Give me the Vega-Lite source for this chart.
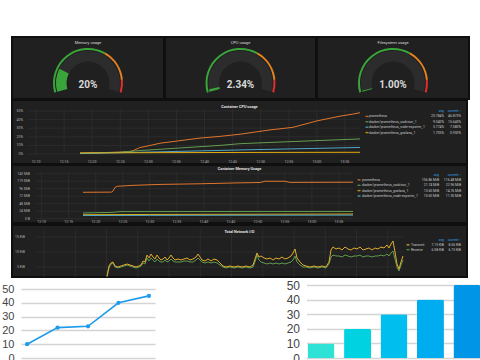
{
  "$schema": "https://vega.github.io/schema/vega-lite/v6.json",
  "background": "#ffffff",
  "padding": {"top": 36, "left": 0, "right": 0, "bottom": -4},
  "config": {
    "view": {"stroke": null},
    "font": "Roboto",
    "axis": {"domain": false, "ticks": false, "grid": false, "labelOverlap": false, "labelFlush": false},
    "title": {"font": "Roboto"}
  },
  "spacing": 0,
  "vconcat": [
    {
      "spacing": 0,
      "hconcat": [
        {"width": 11, "height": 1, "data": {"values": []}, "mark": "point"},
        {
          "spacing": -2,
          "vconcat": [
            {
              "spacing": -2,
              "hconcat": [
                {
                  "width": 152, "height": 62,
                  "view": {"fill": "#202020", "stroke": "#0f0f0f", "strokeWidth": 2},
                  "title": {"text": "Memory usage", "offset": -7.5, "fontSize": 4, "fontWeight": "normal", "color": "#d8d9da"},
                  "layer": [
                    {"data": {"values": [{"from": 0, "to": 100}]},
                     "mark": {"type": "arc", "radius": 32, "radius2": 21.5, "color": "#2c2c2c", "yOffset": 15},
                     "encoding": {"theta": {"field": "from", "type": "quantitative", "scale": {"domain": [0, 100], "range": [-1.85, 1.85]}}, "theta2": {"field": "to"}}},
                    {"data": {"values": [{"from": 0, "to": 20}]},
                     "mark": {"type": "arc", "radius": 32, "radius2": 21.5, "color": "#3aa53a", "yOffset": 15},
                     "encoding": {"theta": {"field": "from", "type": "quantitative"}, "theta2": {"field": "to"}}},
                    {"data": {"values": [{"from": 0, "to": 64, "level": "ok"}, {"from": 64, "to": 90, "level": "warn"}, {"from": 90, "to": 100, "level": "crit"}]},
                     "mark": {"type": "arc", "radius": 35, "radius2": 33, "yOffset": 15},
                     "encoding": {"theta": {"field": "from", "type": "quantitative"}, "theta2": {"field": "to"},
                                  "fill": {"field": "level", "type": "nominal", "scale": {"domain": ["ok", "warn", "crit"], "range": ["#3aa53a", "#e5821e", "#e0302e"]}, "legend": null}}},
                    {"data": {"values": [{"label": "20%"}]},
                     "mark": {"type": "text", "fontSize": 10, "fontWeight": "bold", "color": "#d8d9da", "dy": 16.5},
                     "encoding": {"text": {"field": "label"}}}
                  ]
                },
                {
                  "width": 151, "height": 62,
                  "view": {"fill": "#202020", "stroke": "#0f0f0f", "strokeWidth": 2},
                  "title": {"text": "CPU usage", "offset": -7.5, "fontSize": 4, "fontWeight": "normal", "color": "#d8d9da"},
                  "layer": [
                    {"data": {"values": [{"from": 0, "to": 100}]},
                     "mark": {"type": "arc", "radius": 32, "radius2": 21.5, "color": "#2c2c2c", "yOffset": 15},
                     "encoding": {"theta": {"field": "from", "type": "quantitative", "scale": {"domain": [0, 100], "range": [-1.85, 1.85]}}, "theta2": {"field": "to"}}},
                    {"data": {"values": [{"from": 0, "to": 2.34}]},
                     "mark": {"type": "arc", "radius": 32, "radius2": 21.5, "color": "#3aa53a", "yOffset": 15},
                     "encoding": {"theta": {"field": "from", "type": "quantitative"}, "theta2": {"field": "to"}}},
                    {"data": {"values": [{"from": 0, "to": 64, "level": "ok"}, {"from": 64, "to": 90, "level": "warn"}, {"from": 90, "to": 100, "level": "crit"}]},
                     "mark": {"type": "arc", "radius": 35, "radius2": 33, "yOffset": 15},
                     "encoding": {"theta": {"field": "from", "type": "quantitative"}, "theta2": {"field": "to"},
                                  "fill": {"field": "level", "type": "nominal", "scale": {"domain": ["ok", "warn", "crit"], "range": ["#3aa53a", "#e5821e", "#e0302e"]}, "legend": null}}},
                    {"data": {"values": [{"label": "2.34%"}]},
                     "mark": {"type": "text", "fontSize": 10, "fontWeight": "bold", "color": "#d8d9da", "dy": 16.5},
                     "encoding": {"text": {"field": "label"}}}
                  ]
                },
                {
                  "width": 152, "height": 62,
                  "view": {"fill": "#202020", "stroke": "#0f0f0f", "strokeWidth": 2},
                  "title": {"text": "Filesystem usage", "offset": -7.5, "fontSize": 4, "fontWeight": "normal", "color": "#d8d9da"},
                  "layer": [
                    {"data": {"values": [{"from": 0, "to": 100}]},
                     "mark": {"type": "arc", "radius": 32, "radius2": 21.5, "color": "#2c2c2c", "yOffset": 15},
                     "encoding": {"theta": {"field": "from", "type": "quantitative", "scale": {"domain": [0, 100], "range": [-1.85, 1.85]}}, "theta2": {"field": "to"}}},
                    {"data": {"values": [{"from": 0, "to": 1}]},
                     "mark": {"type": "arc", "radius": 32, "radius2": 21.5, "color": "#3aa53a", "yOffset": 15},
                     "encoding": {"theta": {"field": "from", "type": "quantitative"}, "theta2": {"field": "to"}}},
                    {"data": {"values": [{"from": 0, "to": 64, "level": "ok"}, {"from": 64, "to": 90, "level": "warn"}, {"from": 90, "to": 100, "level": "crit"}]},
                     "mark": {"type": "arc", "radius": 35, "radius2": 33, "yOffset": 15},
                     "encoding": {"theta": {"field": "from", "type": "quantitative"}, "theta2": {"field": "to"},
                                  "fill": {"field": "level", "type": "nominal", "scale": {"domain": ["ok", "warn", "crit"], "range": ["#3aa53a", "#e5821e", "#e0302e"]}, "legend": null}}},
                    {"data": {"values": [{"label": "1.00%"}]},
                     "mark": {"type": "text", "fontSize": 10, "fontWeight": "bold", "color": "#d8d9da", "dy": 16.5},
                     "encoding": {"text": {"field": "label"}}}
                  ]
                }
              ]
            },
            {
              "spacing": -3,
              "vconcat": [
                {
                  "width": 455, "height": 64,
                  "view": {"fill": "#202020", "stroke": "#0f0f0f", "strokeWidth": 2},
                  "title": {"text": "Container CPU usage", "offset": -8.5, "fontSize": 3.8, "fontWeight": "bold", "color": "#e2e2e2"},
                  "resolve": {"scale": {"x": "independent", "y": "independent"}},
                  "layer": [
                    {
                      "layer": [
                        {"data": {"values": [{"v": 0}, {"v": 10}, {"v": 20}, {"v": 30}, {"v": 40}, {"v": 50}]},
                         "mark": {"type": "rule", "color": "#303030", "strokeWidth": 0.7},
                         "encoding": {
                           "y": {"field": "v", "type": "quantitative", "scale": {"domain": [-11.63, 62.79], "nice": false, "zero": false}, "axis": null},
                           "x": {"datum": 8.6, "type": "quantitative", "scale": {"domain": [5.73, 86.72], "nice": false, "zero": false}, "axis": null},
                           "x2": {"datum": 67.7}}},
                        {"data": {"values": [{"t": 10}, {"t": 15}, {"t": 20}, {"t": 25}, {"t": 30}, {"t": 35}, {"t": 40}, {"t": 45}, {"t": 50}, {"t": 55}, {"t": 60}, {"t": 65}]},
                         "mark": {"type": "rule", "color": "#303030", "strokeWidth": 0.7},
                         "encoding": {
                           "x": {"field": "t", "type": "quantitative", "axis": null},
                           "y": {"datum": 0, "type": "quantitative", "axis": null},
                           "y2": {"datum": 52}}},
                        {"data": {"values": [{"v": 0, "lab": "0%"}, {"v": 10, "lab": "10%"}, {"v": 20, "lab": "20%"}, {"v": 30, "lab": "30%"}, {"v": 40, "lab": "40%"}, {"v": 50, "lab": "50%"}]},
                         "mark": {"type": "text", "align": "right", "baseline": "middle", "fontSize": 3.5, "color": "#b0b0b0"},
                         "encoding": {
                           "y": {"field": "v", "type": "quantitative", "axis": null},
                           "x": {"datum": 7.69, "type": "quantitative", "axis": null},
                           "text": {"field": "lab"}}},
                        {"data": {"values": [{"t": 10, "lab": "12:10"}, {"t": 15, "lab": "12:15"}, {"t": 20, "lab": "12:20"}, {"t": 25, "lab": "12:25"}, {"t": 30, "lab": "12:30"}, {"t": 35, "lab": "12:35"}, {"t": 40, "lab": "12:40"}, {"t": 45, "lab": "12:45"}, {"t": 50, "lab": "12:50"}, {"t": 55, "lab": "12:55"}, {"t": 60, "lab": "13:00"}, {"t": 65, "lab": "13:05"}]},
                         "mark": {"type": "text", "align": "center", "baseline": "middle", "fontSize": 3.5, "color": "#b0b0b0"},
                         "encoding": {
                           "x": {"field": "t", "type": "quantitative", "axis": null},
                           "y": {"datum": -9.5, "type": "quantitative", "axis": null},
                           "text": {"field": "lab"}}},
                        {"data": {"values": [
                          {"s": "prometheus", "t": 17.83, "v": 1.0}, {"s": "prometheus", "t": 21.4, "v": 1.5}, {"s": "prometheus", "t": 24.95, "v": 2.2}, {"s": "prometheus", "t": 26.73, "v": 3.0}, {"s": "prometheus", "t": 27.27, "v": 3.8}, {"s": "prometheus", "t": 28.5, "v": 7.5}, {"s": "prometheus", "t": 30, "v": 9.5}, {"s": "prometheus", "t": 32.07, "v": 12.5}, {"s": "prometheus", "t": 35.63, "v": 15.5}, {"s": "prometheus", "t": 39.19, "v": 18.5}, {"s": "prometheus", "t": 42.75, "v": 20.5}, {"s": "prometheus", "t": 46.31, "v": 23}, {"s": "prometheus", "t": 51.65, "v": 28}, {"s": "prometheus", "t": 55.75, "v": 31}, {"s": "prometheus", "t": 60.02, "v": 38.5}, {"s": "prometheus", "t": 64.11, "v": 44}, {"s": "prometheus", "t": 66.5, "v": 46.5}, {"s": "prometheus", "t": 67.67, "v": 48},
                          {"s": "docker/prometheus_cadvisor_1", "t": 17.83, "v": 0.8}, {"s": "docker/prometheus_cadvisor_1", "t": 24.95, "v": 2}, {"s": "docker/prometheus_cadvisor_1", "t": 28.5, "v": 4}, {"s": "docker/prometheus_cadvisor_1", "t": 35.63, "v": 7}, {"s": "docker/prometheus_cadvisor_1", "t": 42.75, "v": 10}, {"s": "docker/prometheus_cadvisor_1", "t": 46.31, "v": 12}, {"s": "docker/prometheus_cadvisor_1", "t": 55.75, "v": 14.5}, {"s": "docker/prometheus_cadvisor_1", "t": 67.67, "v": 17.5},
                          {"s": "docker/prometheus_node-exporter_1", "t": 17.83, "v": 0.5}, {"s": "docker/prometheus_node-exporter_1", "t": 28.5, "v": 2}, {"s": "docker/prometheus_node-exporter_1", "t": 46.31, "v": 4.7}, {"s": "docker/prometheus_node-exporter_1", "t": 67.67, "v": 7.6},
                          {"s": "docker/prometheus_grafana_1", "t": 17.83, "v": 1.2}, {"s": "docker/prometheus_grafana_1", "t": 28.5, "v": 1.5}, {"s": "docker/prometheus_grafana_1", "t": 46.31, "v": 1.8}, {"s": "docker/prometheus_grafana_1", "t": 67.67, "v": 2.0}
                         ]},
                         "mark": {"type": "line", "strokeWidth": 1, "clip": true},
                         "encoding": {
                           "x": {"field": "t", "type": "quantitative", "axis": null},
                           "y": {"field": "v", "type": "quantitative", "axis": null},
                           "stroke": {"field": "s", "type": "nominal", "scale": {"domain": ["prometheus", "docker/prometheus_cadvisor_1", "docker/prometheus_node-exporter_1", "docker/prometheus_grafana_1", "Transmit", "Receive"], "range": ["#e0752d", "#629e51", "#4fa7c9", "#e5ac0e", "#e0ac2e", "#5f9a4e"]}, "legend": null}}}
                      ]
                    },
                    {
                      "data": {"values": [
                        {"series": "prometheus", "avg": "20.784%", "cur": "46.873%"},
                        {"series": "docker/prometheus_cadvisor_1", "avg": "9.040%", "cur": "15.643%"},
                        {"series": "docker/prometheus_node-exporter_1", "avg": "3.774%", "cur": "7.580%"},
                        {"series": "docker/prometheus_grafana_1", "avg": "1.705%", "cur": "0.930%"}
                      ]},
                      "layer": [
                        {"mark": {"type": "tick", "orient": "horizontal", "size": 2.5, "thickness": 0.5, "filled": false, "strokeWidth": 1},
                         "encoding": {
                           "x": {"datum": 0, "type": "quantitative", "scale": {"domain": [0, 1, 2, 3], "range": [355, 357, 432, 449], "nice": false, "zero": false}, "axis": null},
                           "y": {"field": "series", "type": "nominal", "scale": {"type": "point", "domain": ["hdr", "prometheus", "docker/prometheus_cadvisor_1", "docker/prometheus_node-exporter_1", "docker/prometheus_grafana_1"], "range": [11, 32.6], "padding": 0}, "axis": null},
                           "stroke": {"field": "series", "type": "nominal", "scale": {"domain": ["prometheus", "docker/prometheus_cadvisor_1", "docker/prometheus_node-exporter_1", "docker/prometheus_grafana_1", "Transmit", "Receive"], "range": ["#e0752d", "#629e51", "#4fa7c9", "#e5ac0e", "#e0ac2e", "#5f9a4e"]}, "legend": null}}},
                        {"mark": {"type": "text", "align": "left", "fontSize": 3.4, "color": "#c8c9ca"},
                         "encoding": {"x": {"datum": 1, "type": "quantitative", "axis": null}, "y": {"field": "series", "type": "nominal", "axis": null}, "text": {"field": "series"}}},
                        {"mark": {"type": "text", "align": "right", "fontSize": 3.4, "color": "#c8c9ca"},
                         "encoding": {"x": {"datum": 2, "type": "quantitative", "axis": null}, "y": {"field": "series", "type": "nominal", "axis": null}, "text": {"field": "avg"}}},
                        {"mark": {"type": "text", "align": "right", "fontSize": 3.4, "color": "#c8c9ca"},
                         "encoding": {"x": {"datum": 3, "type": "quantitative", "axis": null}, "y": {"field": "series", "type": "nominal", "axis": null}, "text": {"field": "cur"}}},
                        {"data": {"values": [{"h": "avg", "c": 2}, {"h": "current ↑", "c": 3}]},
                         "mark": {"type": "text", "align": "right", "fontSize": 3.4, "color": "#33a2e5"},
                         "encoding": {"x": {"field": "c", "type": "quantitative", "axis": null}, "y": {"datum": "hdr", "type": "nominal", "axis": null}, "text": {"field": "h"}}}
                      ]
                    }
                  ]
                },
                {
                  "width": 455, "height": 58,
                  "view": {"fill": "#202020", "stroke": "#0f0f0f", "strokeWidth": 2},
                  "title": {"text": "Container Memory Usage", "offset": -6, "fontSize": 3.8, "fontWeight": "bold", "color": "#e2e2e2"},
                  "resolve": {"scale": {"x": "independent", "y": "independent"}},
                  "layer": [
                    {
                      "layer": [
                        {"data": {"values": [{"v": 0}, {"v": 23.842}, {"v": 47.684}, {"v": 71.526}, {"v": 95.367}, {"v": 119.209}, {"v": 143.051}]},
                         "mark": {"type": "rule", "color": "#303030", "strokeWidth": 0.7},
                         "encoding": {
                           "y": {"field": "v", "type": "quantitative", "scale": {"domain": [-13.7, 170.7], "nice": false, "zero": false}, "axis": null},
                           "x": {"datum": 8.95, "type": "quantitative", "scale": {"domain": [4.505, 88.69], "nice": false, "zero": false}, "axis": null},
                           "x2": {"datum": 67.6}}},
                        {"data": {"values": [{"t": 10}, {"t": 15}, {"t": 20}, {"t": 25}, {"t": 30}, {"t": 35}, {"t": 40}, {"t": 45}, {"t": 50}, {"t": 55}, {"t": 60}, {"t": 65}]},
                         "mark": {"type": "rule", "color": "#303030", "strokeWidth": 0.7},
                         "encoding": {
                           "x": {"field": "t", "type": "quantitative", "axis": null},
                           "y": {"datum": 0, "type": "quantitative", "axis": null},
                           "y2": {"datum": 150}}},
                        {"data": {"values": [{"v": 0, "lab": "0 B"}, {"v": 23.842, "lab": "24 MiB"}, {"v": 47.684, "lab": "48 MiB"}, {"v": 71.526, "lab": "72 MiB"}, {"v": 95.367, "lab": "96 MiB"}, {"v": 119.209, "lab": "119 MiB"}, {"v": 143.051, "lab": "143 MiB"}]},
                         "mark": {"type": "text", "align": "right", "baseline": "middle", "fontSize": 3.5, "color": "#b0b0b0"},
                         "encoding": {
                           "y": {"field": "v", "type": "quantitative", "axis": null},
                           "x": {"datum": 7.84, "type": "quantitative", "axis": null},
                           "text": {"field": "lab"}}},
                        {"data": {"values": [{"t": 10, "lab": "12:10"}, {"t": 15, "lab": "12:15"}, {"t": 20, "lab": "12:20"}, {"t": 25, "lab": "12:25"}, {"t": 30, "lab": "12:30"}, {"t": 35, "lab": "12:35"}, {"t": 40, "lab": "12:40"}, {"t": 45, "lab": "12:45"}, {"t": 50, "lab": "12:50"}, {"t": 55, "lab": "12:55"}, {"t": 60, "lab": "13:00"}, {"t": 65, "lab": "13:05"}]},
                         "mark": {"type": "text", "align": "center", "baseline": "middle", "fontSize": 3.5, "color": "#b0b0b0"},
                         "encoding": {
                           "x": {"field": "t", "type": "quantitative", "axis": null},
                           "y": {"datum": -10, "type": "quantitative", "axis": null},
                           "text": {"field": "lab"}}},
                        {"data": {"values": [
                          {"s": "prometheus", "t": 17.64, "v": 84}, {"s": "prometheus", "t": 22.9, "v": 84.5}, {"s": "prometheus", "t": 23.2, "v": 88}, {"s": "prometheus", "t": 23.6, "v": 100}, {"s": "prometheus", "t": 24.0, "v": 103}, {"s": "prometheus", "t": 26.9, "v": 106}, {"s": "prometheus", "t": 31.9, "v": 109}, {"s": "prometheus", "t": 39.3, "v": 111}, {"s": "prometheus", "t": 46.7, "v": 114}, {"s": "prometheus", "t": 50.4, "v": 115}, {"s": "prometheus", "t": 51.3, "v": 119}, {"s": "prometheus", "t": 55.0, "v": 119}, {"s": "prometheus", "t": 55.9, "v": 115.5}, {"s": "prometheus", "t": 67.6, "v": 116},
                          {"s": "docker/prometheus_cadvisor_1", "t": 17.64, "v": 18}, {"s": "docker/prometheus_cadvisor_1", "t": 20, "v": 19}, {"s": "docker/prometheus_cadvisor_1", "t": 23, "v": 20}, {"s": "docker/prometheus_cadvisor_1", "t": 24.5, "v": 22.5}, {"s": "docker/prometheus_cadvisor_1", "t": 30, "v": 22.6}, {"s": "docker/prometheus_cadvisor_1", "t": 40, "v": 22.8}, {"s": "docker/prometheus_cadvisor_1", "t": 50, "v": 23}, {"s": "docker/prometheus_cadvisor_1", "t": 67.6, "v": 23},
                          {"s": "docker/prometheus_grafana_1", "t": 17.64, "v": 12.5}, {"s": "docker/prometheus_grafana_1", "t": 30, "v": 13.5}, {"s": "docker/prometheus_grafana_1", "t": 50, "v": 14.2}, {"s": "docker/prometheus_grafana_1", "t": 67.6, "v": 14.8},
                          {"s": "docker/prometheus_node-exporter_1", "t": 17.64, "v": 10}, {"s": "docker/prometheus_node-exporter_1", "t": 30, "v": 10.5}, {"s": "docker/prometheus_node-exporter_1", "t": 50, "v": 11}, {"s": "docker/prometheus_node-exporter_1", "t": 67.6, "v": 11.3}
                         ]},
                         "mark": {"type": "line", "strokeWidth": 1, "clip": true},
                         "encoding": {
                           "x": {"field": "t", "type": "quantitative", "axis": null},
                           "y": {"field": "v", "type": "quantitative", "axis": null},
                           "stroke": {"field": "s", "type": "nominal", "scale": {"domain": ["prometheus", "docker/prometheus_cadvisor_1", "docker/prometheus_node-exporter_1", "docker/prometheus_grafana_1", "Transmit", "Receive"], "range": ["#e0752d", "#629e51", "#4fa7c9", "#e5ac0e", "#e0ac2e", "#5f9a4e"]}, "legend": null}}}
                      ]
                    },
                    {
                      "data": {"values": [
                        {"series": "prometheus", "avg": "106.86 MiB", "cur": "116.48 MiB"},
                        {"series": "docker/prometheus_cadvisor_1", "avg": "21.74 MiB", "cur": "22.96 MiB"},
                        {"series": "docker/prometheus_grafana_1", "avg": "13.60 MiB", "cur": "14.76 MiB"},
                        {"series": "docker/prometheus_node-exporter_1", "avg": "10.60 MiB", "cur": "11.30 MiB"}
                      ]},
                      "layer": [
                        {"mark": {"type": "tick", "orient": "horizontal", "size": 2.5, "thickness": 0.5, "filled": false, "strokeWidth": 1},
                         "encoding": {
                           "x": {"datum": 0, "type": "quantitative", "scale": {"domain": [0, 1, 2, 3], "range": [347, 350, 427, 449], "nice": false, "zero": false}, "axis": null},
                           "y": {"field": "series", "type": "nominal", "scale": {"type": "point", "domain": ["hdr", "prometheus", "docker/prometheus_cadvisor_1", "docker/prometheus_grafana_1", "docker/prometheus_node-exporter_1"], "range": [9.5, 31], "padding": 0}, "axis": null},
                           "stroke": {"field": "series", "type": "nominal", "scale": {"domain": ["prometheus", "docker/prometheus_cadvisor_1", "docker/prometheus_node-exporter_1", "docker/prometheus_grafana_1", "Transmit", "Receive"], "range": ["#e0752d", "#629e51", "#4fa7c9", "#e5ac0e", "#e0ac2e", "#5f9a4e"]}, "legend": null}}},
                        {"mark": {"type": "text", "align": "left", "fontSize": 3.4, "color": "#c8c9ca"},
                         "encoding": {"x": {"datum": 1, "type": "quantitative", "axis": null}, "y": {"field": "series", "type": "nominal", "axis": null}, "text": {"field": "series"}}},
                        {"mark": {"type": "text", "align": "right", "fontSize": 3.4, "color": "#c8c9ca"},
                         "encoding": {"x": {"datum": 2, "type": "quantitative", "axis": null}, "y": {"field": "series", "type": "nominal", "axis": null}, "text": {"field": "avg"}}},
                        {"mark": {"type": "text", "align": "right", "fontSize": 3.4, "color": "#c8c9ca"},
                         "encoding": {"x": {"datum": 3, "type": "quantitative", "axis": null}, "y": {"field": "series", "type": "nominal", "axis": null}, "text": {"field": "cur"}}},
                        {"data": {"values": [{"h": "avg", "c": 2}, {"h": "current ↑", "c": 3}]},
                         "mark": {"type": "text", "align": "right", "fontSize": 3.4, "color": "#33a2e5"},
                         "encoding": {"x": {"field": "c", "type": "quantitative", "axis": null}, "y": {"datum": "hdr", "type": "nominal", "axis": null}, "text": {"field": "h"}}}
                      ]
                    }
                  ]
                },
                {
                  "width": 455, "height": 52,
                  "view": {"fill": "#202020", "stroke": "#0f0f0f", "strokeWidth": 2},
                  "title": {"text": "Total Network I/O", "offset": -9, "fontSize": 3.8, "fontWeight": "bold", "color": "#e2e2e2"},
                  "resolve": {"scale": {"x": "independent", "y": "independent"}},
                  "layer": [
                    {
                      "layer": [
                        {"data": {"values": [{"v": 5}, {"v": 10}, {"v": 15}]},
                         "mark": {"type": "rule", "color": "#303030", "strokeWidth": 0.7},
                         "encoding": {
                           "y": {"field": "v", "type": "quantitative", "scale": {"domain": [1.667, 19], "nice": false, "zero": false}, "axis": null},
                           "x": {"datum": 8.56, "type": "quantitative", "scale": {"domain": [4.88, 77.68], "nice": false, "zero": false}, "axis": null},
                           "x2": {"datum": 67.44}}},
                        {"data": {"values": [{"t": 10}, {"t": 15}, {"t": 20}, {"t": 25}, {"t": 30}, {"t": 35}, {"t": 40}, {"t": 45}, {"t": 50}, {"t": 55}, {"t": 60}, {"t": 65}]},
                         "mark": {"type": "rule", "color": "#303030", "strokeWidth": 0.7},
                         "encoding": {
                           "x": {"field": "t", "type": "quantitative", "axis": null},
                           "y": {"datum": 1.7, "type": "quantitative", "axis": null},
                           "y2": {"datum": 17.5}}},
                        {"data": {"values": [{"v": 5, "lab": "5 KiB"}, {"v": 10, "lab": "10 KiB"}, {"v": 15, "lab": "15 KiB"}]},
                         "mark": {"type": "text", "align": "right", "baseline": "middle", "fontSize": 3.5, "color": "#b0b0b0"},
                         "encoding": {
                           "y": {"field": "v", "type": "quantitative", "axis": null},
                           "x": {"datum": 6.96, "type": "quantitative", "axis": null},
                           "text": {"field": "lab"}}},
                        {"data": {"values": [
                          {"t": 20.08, "Transmit": 2.0, "Receive": 1.7}, {"t": 20.40, "Transmit": 5.33, "Receive": 4.67}, {"t": 20.72, "Transmit": 6.33, "Receive": 6.0}, {"t": 21.04, "Transmit": 6.67, "Receive": 6.33}, {"t": 21.36, "Transmit": 5.33, "Receive": 5.0}, {"t": 21.84, "Transmit": 5.0, "Receive": 4.67}, {"t": 22.32, "Transmit": 5.33, "Receive": 5.0}, {"t": 22.80, "Transmit": 5.67, "Receive": 5.33}, {"t": 23.28, "Transmit": 6.0, "Receive": 5.67}, {"t": 23.76, "Transmit": 5.67, "Receive": 5.33},
                          {"t": 24.24, "Transmit": 5.33, "Receive": 5.0}, {"t": 24.72, "Transmit": 5.0, "Receive": 4.67}, {"t": 25.20, "Transmit": 5.33, "Receive": 5.0}, {"t": 25.52, "Transmit": 5.67, "Receive": 5.33}, {"t": 25.84, "Transmit": 7.0, "Receive": 6.33}, {"t": 26.16, "Transmit": 6.67, "Receive": 6.0}, {"t": 26.48, "Transmit": 9.0, "Receive": 8.0}, {"t": 26.80, "Transmit": 8.0, "Receive": 7.0}, {"t": 27.12, "Transmit": 9.33, "Receive": 8.0}, {"t": 27.44, "Transmit": 8.33, "Receive": 7.33},
                          {"t": 27.76, "Transmit": 7.67, "Receive": 6.67}, {"t": 28.08, "Transmit": 9.0, "Receive": 7.67}, {"t": 28.40, "Transmit": 8.0, "Receive": 7.0}, {"t": 28.72, "Transmit": 7.33, "Receive": 6.67}, {"t": 29.04, "Transmit": 7.67, "Receive": 6.67}, {"t": 29.36, "Transmit": 8.33, "Receive": 7.33}, {"t": 29.68, "Transmit": 7.33, "Receive": 6.67}, {"t": 30.00, "Transmit": 8.0, "Receive": 7.0}, {"t": 30.32, "Transmit": 9.0, "Receive": 7.67}, {"t": 30.64, "Transmit": 8.0, "Receive": 7.0},
                          {"t": 30.96, "Transmit": 7.33, "Receive": 6.67}, {"t": 31.44, "Transmit": 7.67, "Receive": 6.67}, {"t": 31.92, "Transmit": 7.33, "Receive": 6.67}, {"t": 32.40, "Transmit": 7.67, "Receive": 7.0}, {"t": 32.88, "Transmit": 8.0, "Receive": 7.0}, {"t": 33.36, "Transmit": 7.33, "Receive": 6.67}, {"t": 33.84, "Transmit": 7.67, "Receive": 6.67}, {"t": 34.32, "Transmit": 8.33, "Receive": 7.33}, {"t": 34.64, "Transmit": 9.33, "Receive": 8.0}, {"t": 34.96, "Transmit": 8.33, "Receive": 7.33},
                          {"t": 35.28, "Transmit": 7.33, "Receive": 6.67}, {"t": 35.76, "Transmit": 7.0, "Receive": 6.33}, {"t": 36.24, "Transmit": 7.67, "Receive": 6.67}, {"t": 36.72, "Transmit": 7.0, "Receive": 6.33}, {"t": 37.20, "Transmit": 7.67, "Receive": 6.67}, {"t": 37.68, "Transmit": 7.33, "Receive": 6.33}, {"t": 38.16, "Transmit": 6.33, "Receive": 5.67}, {"t": 38.64, "Transmit": 5.33, "Receive": 5.0}, {"t": 39.12, "Transmit": 5.0, "Receive": 4.67}, {"t": 39.76, "Transmit": 5.33, "Receive": 5.0},
                          {"t": 40.40, "Transmit": 5.0, "Receive": 4.67}, {"t": 41.04, "Transmit": 5.33, "Receive": 5.0}, {"t": 41.68, "Transmit": 5.0, "Receive": 4.67}, {"t": 42.32, "Transmit": 5.33, "Receive": 5.0}, {"t": 42.96, "Transmit": 5.0, "Receive": 4.67}, {"t": 43.44, "Transmit": 5.67, "Receive": 5.0}, {"t": 43.76, "Transmit": 7.67, "Receive": 6.67}, {"t": 44.08, "Transmit": 9.67, "Receive": 9.0}, {"t": 44.40, "Transmit": 8.33, "Receive": 7.33}, {"t": 44.72, "Transmit": 8.67, "Receive": 6.67},
                          {"t": 45.20, "Transmit": 8.0, "Receive": 6.33}, {"t": 45.68, "Transmit": 7.67, "Receive": 6.0}, {"t": 46.16, "Transmit": 8.0, "Receive": 6.33}, {"t": 46.64, "Transmit": 7.33, "Receive": 6.0}, {"t": 47.12, "Transmit": 8.0, "Receive": 6.33}, {"t": 47.60, "Transmit": 7.67, "Receive": 6.0}, {"t": 48.08, "Transmit": 8.33, "Receive": 6.33}, {"t": 48.56, "Transmit": 7.67, "Receive": 6.0}, {"t": 49.04, "Transmit": 8.0, "Receive": 6.33}, {"t": 49.52, "Transmit": 8.67, "Receive": 6.67},
                          {"t": 49.84, "Transmit": 9.67, "Receive": 7.33}, {"t": 50.16, "Transmit": 11.0, "Receive": 8.67}, {"t": 50.48, "Transmit": 8.0, "Receive": 6.67}, {"t": 50.96, "Transmit": 6.67, "Receive": 5.67}, {"t": 51.44, "Transmit": 5.67, "Receive": 5.0}, {"t": 51.92, "Transmit": 5.33, "Receive": 5.0}, {"t": 52.56, "Transmit": 5.0, "Receive": 4.67}, {"t": 53.20, "Transmit": 5.33, "Receive": 5.0}, {"t": 53.84, "Transmit": 5.0, "Receive": 4.67}, {"t": 54.48, "Transmit": 5.33, "Receive": 5.0},
                          {"t": 55.12, "Transmit": 5.0, "Receive": 4.67}, {"t": 55.60, "Transmit": 6.67, "Receive": 6.0}, {"t": 55.92, "Transmit": 10.67, "Receive": 8.33}, {"t": 56.24, "Transmit": 11.67, "Receive": 9.0}, {"t": 56.72, "Transmit": 11.0, "Receive": 8.67}, {"t": 57.20, "Transmit": 11.33, "Receive": 8.67}, {"t": 57.68, "Transmit": 10.67, "Receive": 8.33}, {"t": 58.16, "Transmit": 11.67, "Receive": 9.0}, {"t": 58.64, "Transmit": 11.0, "Receive": 8.67}, {"t": 59.12, "Transmit": 10.67, "Receive": 8.33},
                          {"t": 59.60, "Transmit": 11.33, "Receive": 8.67}, {"t": 60.08, "Transmit": 11.0, "Receive": 8.67}, {"t": 60.56, "Transmit": 11.67, "Receive": 9.0}, {"t": 61.04, "Transmit": 10.67, "Receive": 8.33}, {"t": 61.52, "Transmit": 11.0, "Receive": 8.67}, {"t": 62.00, "Transmit": 11.33, "Receive": 8.67}, {"t": 62.48, "Transmit": 10.67, "Receive": 8.33}, {"t": 62.96, "Transmit": 11.33, "Receive": 8.67}, {"t": 63.44, "Transmit": 11.0, "Receive": 8.67}, {"t": 63.92, "Transmit": 11.67, "Receive": 9.0},
                          {"t": 64.40, "Transmit": 11.33, "Receive": 8.67}, {"t": 64.88, "Transmit": 12.33, "Receive": 9.33}, {"t": 65.20, "Transmit": 11.33, "Receive": 8.67}, {"t": 65.52, "Transmit": 12.67, "Receive": 9.67}, {"t": 65.84, "Transmit": 13.67, "Receive": 10.33}, {"t": 66.16, "Transmit": 10.0, "Receive": 7.67}, {"t": 66.48, "Transmit": 6.0, "Receive": 5.0}, {"t": 66.80, "Transmit": 4.33, "Receive": 3.67}, {"t": 67.12, "Transmit": 6.67, "Receive": 5.67}, {"t": 67.44, "Transmit": 8.67, "Receive": 7.33}
                         ]},
                         "layer": [
                           {"mark": {"type": "line", "strokeWidth": 1, "clip": true},
                            "encoding": {
                              "x": {"field": "t", "type": "quantitative", "axis": null},
                              "y": {"field": "Receive", "type": "quantitative", "axis": null},
                              "stroke": {"datum": "Receive", "type": "nominal", "scale": {"domain": ["prometheus", "docker/prometheus_cadvisor_1", "docker/prometheus_node-exporter_1", "docker/prometheus_grafana_1", "Transmit", "Receive"], "range": ["#e0752d", "#629e51", "#4fa7c9", "#e5ac0e", "#e0ac2e", "#5f9a4e"]}, "legend": null}}},
                           {"mark": {"type": "line", "strokeWidth": 1, "clip": true},
                            "encoding": {
                              "x": {"field": "t", "type": "quantitative", "axis": null},
                              "y": {"field": "Transmit", "type": "quantitative", "axis": null},
                              "stroke": {"datum": "Transmit", "type": "nominal", "scale": {"domain": ["prometheus", "docker/prometheus_cadvisor_1", "docker/prometheus_node-exporter_1", "docker/prometheus_grafana_1", "Transmit", "Receive"], "range": ["#e0752d", "#629e51", "#4fa7c9", "#e5ac0e", "#e0ac2e", "#5f9a4e"]}, "legend": null}}}
                         ]}
                      ]
                    },
                    {
                      "data": {"values": [
                        {"series": "Transmit", "avg": "7.15 KiB", "cur": "8.56 KiB"},
                        {"series": "Receive", "avg": "6.08 KiB", "cur": "6.75 KiB"}
                      ]},
                      "layer": [
                        {"mark": {"type": "tick", "orient": "horizontal", "size": 2.5, "thickness": 0.5, "filled": false, "strokeWidth": 1},
                         "encoding": {
                           "x": {"datum": 0, "type": "quantitative", "scale": {"domain": [0, 1, 2, 3], "range": [396, 399, 432, 449], "nice": false, "zero": false}, "axis": null},
                           "y": {"field": "series", "type": "nominal", "scale": {"type": "point", "domain": ["hdr", "Transmit", "Receive"], "range": [15, 24.7], "padding": 0}, "axis": null},
                           "stroke": {"field": "series", "type": "nominal", "scale": {"domain": ["prometheus", "docker/prometheus_cadvisor_1", "docker/prometheus_node-exporter_1", "docker/prometheus_grafana_1", "Transmit", "Receive"], "range": ["#e0752d", "#629e51", "#4fa7c9", "#e5ac0e", "#e0ac2e", "#5f9a4e"]}, "legend": null}}},
                        {"mark": {"type": "text", "align": "left", "fontSize": 3.4, "color": "#c8c9ca"},
                         "encoding": {"x": {"datum": 1, "type": "quantitative", "axis": null}, "y": {"field": "series", "type": "nominal", "axis": null}, "text": {"field": "series"}}},
                        {"mark": {"type": "text", "align": "right", "fontSize": 3.4, "color": "#c8c9ca"},
                         "encoding": {"x": {"datum": 2, "type": "quantitative", "axis": null}, "y": {"field": "series", "type": "nominal", "axis": null}, "text": {"field": "avg"}}},
                        {"mark": {"type": "text", "align": "right", "fontSize": 3.4, "color": "#c8c9ca"},
                         "encoding": {"x": {"datum": 3, "type": "quantitative", "axis": null}, "y": {"field": "series", "type": "nominal", "axis": null}, "text": {"field": "cur"}}},
                        {"data": {"values": [{"h": "avg", "c": 2}, {"h": "current ↑", "c": 3}]},
                         "mark": {"type": "text", "align": "right", "fontSize": 3.4, "color": "#33a2e5"},
                         "encoding": {"x": {"field": "c", "type": "quantitative", "axis": null}, "y": {"datum": "hdr", "type": "nominal", "axis": null}, "text": {"field": "h"}}}
                      ]
                    }
                  ]
                }
              ]
            }
          ]
        }
      ]
    },
    {
      "spacing": 0,
      "hconcat": [
        {"width": 1, "height": 1, "data": {"values": []}, "mark": "point"},
        {
          "spacing": 130.5,
          "hconcat": [
            {
              "width": 134, "height": 73,
              "data": {"values": [{"k": "A", "v": 10}, {"k": "B", "v": 22}, {"k": "C", "v": 23}, {"k": "D", "v": 40}, {"k": "E", "v": 45}]},
              "mark": {"type": "line", "color": "#1e9be9", "strokeWidth": 1.6, "point": {"filled": true, "size": 18, "color": "#1e9be9"}},
              "encoding": {
                "x": {"field": "k", "type": "ordinal", "scale": {"type": "point", "padding": 0.2}, "axis": null},
                "y": {"field": "v", "type": "quantitative", "scale": {"domain": [0, 52.9], "nice": false},
                      "axis": {"title": null, "values": [0, 10, 20, 30, 40, 50], "grid": true, "gridColor": "#d4d4d4", "gridWidth": 1.5, "labelFontSize": 11, "labelFont": "Liberation Sans", "labelColor": "#444444", "labelPadding": 7}}
              }
            },
            {
              "width": 175, "height": 73,
              "data": {"values": [{"k": "A", "v": 10}, {"k": "B", "v": 20}, {"k": "C", "v": 30}, {"k": "D", "v": 40}, {"k": "E", "v": 50}]},
              "mark": {"type": "bar", "cornerRadiusTopLeft": 2, "cornerRadiusTopRight": 2},
              "encoding": {
                "x": {"field": "k", "type": "nominal", "scale": {"paddingInner": 0.26, "paddingOuter": 0.03}, "axis": null},
                "y": {"field": "v", "type": "quantitative", "scale": {"domain": [0, 50], "nice": false},
                      "axis": {"title": null, "values": [0, 10, 20, 30, 40, 50], "grid": true, "gridColor": "#d4d4d4", "gridWidth": 1.5, "labelFontSize": 12, "labelFont": "Liberation Sans", "labelColor": "#444444", "labelPadding": 7}},
                "color": {"field": "k", "type": "nominal", "scale": {"domain": ["A", "B", "C", "D", "E"], "range": ["#2ee3d5", "#00d2e2", "#00bfee", "#00acf0", "#0095e6"]}, "legend": null}
              }
            }
          ]
        }
      ]
    }
  ]
}
